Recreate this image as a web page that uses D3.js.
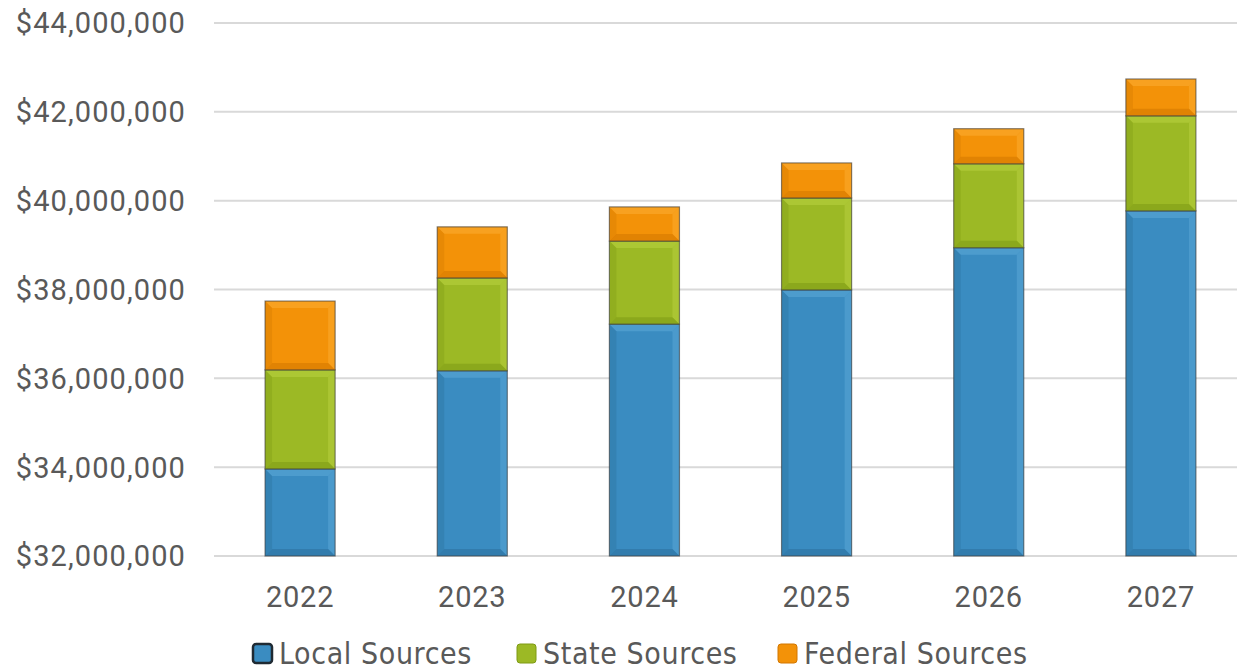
<!DOCTYPE html>
<html lang="en">
<head>
    <meta charset="UTF-8">
    <title>Revenue Sources</title>
    <style>
        body { margin: 0; background: #fff; }
        svg { display: block; }
        .tick-label { font-family: Roboto, sans-serif; fill: #595959; }
        .legend-text { font-family: "Liberation Sans Narrow", "DejaVu Sans Condensed", sans-serif; fill: #595959; }
    </style>
</head>
<body>
    <svg width="1237" height="671"></svg>
    <script src="https://d3js.org/d3.v7.min.js"></script>
    <script>
        // Data
        const years = ["2022", "2023", "2024", "2025", "2026", "2027"];
        const localSources = [33960000, 36170000, 37220000, 37990000, 38940000, 39770000];
        const stateSources = [2230000, 2090000, 1870000, 2070000, 1890000, 2140000];
        const federalSources = [1550000, 1150000, 770000, 790000, 790000, 830000];
        const seriesNames = ["Local Sources", "State Sources", "Federal Sources"];
        const yTicks = [32000000, 34000000, 36000000, 38000000, 40000000, 42000000, 44000000];

        const colors = {
            "Local Sources": { base: "#3a8cc1", light: "#5aa6d6", dark: "#2b6f9c" },
            "State Sources": { base: "#9cb925", light: "#b8d040", dark: "#7e9a15" },
            "Federal Sources": { base: "#f39208", light: "#fbab30", dark: "#d27700" }
        };

        const svg = d3.select("svg");

        const x = d3.scaleBand()
            .domain(years)
            .range([214, 1247])
            .paddingInner(0.593)
            .paddingOuter(0.2965);

        const y = d3.scaleLinear()
            .domain([32000000, 44000000])
            .range([556, 23]);

        // gridlines
        svg.append("g")
            .selectAll("line")
            .data(yTicks)
            .join("line")
            .attr("x1", 214)
            .attr("x2", 1237)
            .attr("y1", d => y(d))
            .attr("y2", d => y(d))
            .attr("stroke", "#d9d9d9")
            .attr("stroke-width", 2);

        // y labels
        const fmt = d3.format("$,.0f");
        svg.append("g")
            .selectAll("text")
            .data(yTicks)
            .join("text")
            .attr("class", "tick-label")
            .attr("x", 186)
            .attr("y", d => y(d))
            .attr("dy", "0.36em")
            .attr("text-anchor", "end")
            .style("font-size", "29px")
            .style("letter-spacing", "1.1px")
            .text(d => fmt(d));

        // x labels
        svg.append("g")
            .selectAll("text")
            .data(years)
            .join("text")
            .attr("class", "tick-label")
            .attr("x", d => x(d) + x.bandwidth() / 2)
            .attr("y", 607)
            .attr("text-anchor", "middle")
            .style("font-size", "29px")
            .style("letter-spacing", "0.8px")
            .text(d => d);

        // stack
        const table = years.map((yr, i) => ({
            year: yr,
            "Local Sources": localSources[i],
            "State Sources": stateSources[i],
            "Federal Sources": federalSources[i]
        }));
        const stack = d3.stack().keys(seriesNames).value((d, k) => d[k]);
        const layers = stack(table);

        const bevel = 7;
        const barsG = svg.append("g");

        layers.forEach(layer => {
            const c = colors[layer.key];
            layer.forEach(seg => {
                const lo = Math.max(seg[0], 32000000);
                const x0 = x(seg.data.year);
                const x1 = x0 + x.bandwidth();
                const y0 = y(seg[1]);
                const y1 = y(lo);
                const g = barsG.append("g");
                g.append("rect")
                    .attr("x", x0).attr("y", y0)
                    .attr("width", x1 - x0).attr("height", y1 - y0)
                    .attr("fill", c.base);
                const b = Math.min(bevel, (y1 - y0) / 2);
                const faces = [
                    { pts: [[x0, y0], [x1, y0], [x1 - b, y0 + b], [x0 + b, y0 + b]], fill: c.light, op: 0.6 },
                    { pts: [[x1, y0], [x1, y1], [x1 - b, y1 - b], [x1 - b, y0 + b]], fill: c.light, op: 0.55 },
                    { pts: [[x0, y1], [x1, y1], [x1 - b, y1 - b], [x0 + b, y1 - b]], fill: c.dark, op: 0.55 },
                    { pts: [[x0, y0], [x0, y1], [x0 + b, y1 - b], [x0 + b, y0 + b]], fill: c.dark, op: 0.35 }
                ];
                g.selectAll("polygon")
                    .data(faces)
                    .join("polygon")
                    .attr("points", d => d.pts.map(p => p.join(",")).join(" "))
                    .attr("fill", d => d.fill)
                    .attr("opacity", d => d.op);
                g.append("rect")
                    .attr("x", x0).attr("y", y0)
                    .attr("width", x1 - x0).attr("height", y1 - y0)
                    .attr("fill", "none")
                    .attr("stroke", "#3a3a3a")
                    .attr("stroke-opacity", 0.6)
                    .attr("stroke-width", 1.2);
            });
        });

        // legend
        const legendX = [253, 517, 778];
        const legend = svg.append("g");
        seriesNames.forEach((name, i) => {
            const c = colors[name];
            const lg = legend.append("g").attr("transform", `translate(${legendX[i]},644)`);
            lg.append("rect")
                .attr("width", 19).attr("height", 19)
                .attr("rx", 3)
                .attr("fill", c.base)
                .attr("stroke", i === 0 ? "#1f2a33" : c.dark)
                .attr("stroke-width", i === 0 ? 2.5 : 1);
            lg.append("text")
                .attr("class", "legend-text")
                .attr("x", 26)
                .attr("y", 20)
                .style("font-size", "30px")
                .style("letter-spacing", "0.6px")
                .text(name);
        });
    </script>
</body>
</html>
